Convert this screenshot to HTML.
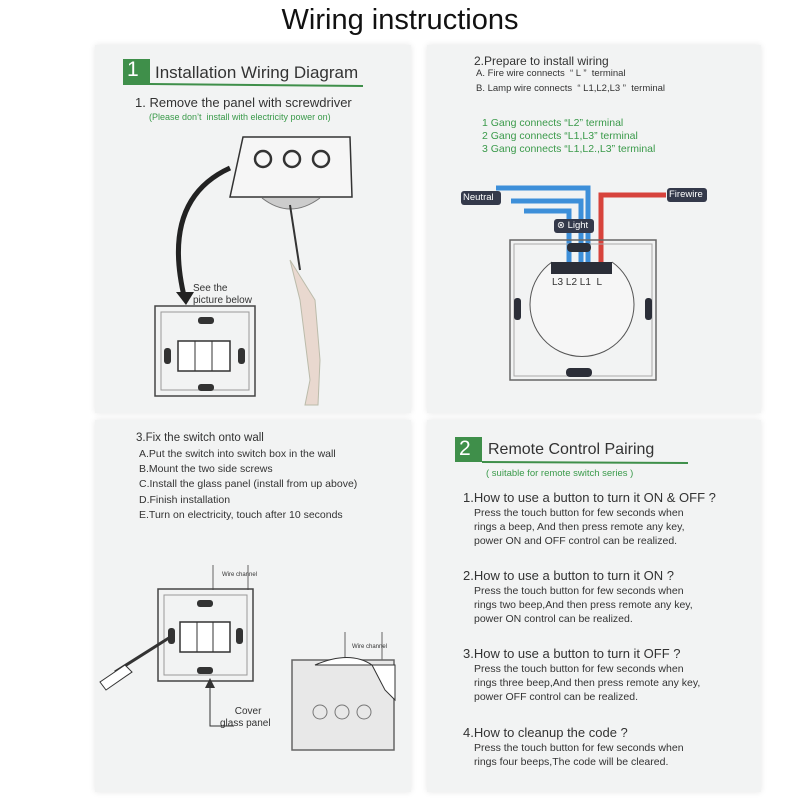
<!DOCTYPE html>
<html><head><meta charset="utf-8"><style>
body{margin:0;width:800px;height:800px;background:#fff;position:relative;overflow:hidden;font-family:"Liberation Sans",sans-serif;color:#333}
.p{position:absolute;background:#f2f3f3;box-shadow:0 0 6px #e6e6e6}
.t{position:absolute;white-space:nowrap}
.g{color:#3a9a4a}
svg{position:absolute;left:0;top:0}
</style></head><body>
<div class="t" style="left:0;width:800px;top:4px;text-align:center;font-size:29px;color:#111">Wiring instructions</div>
<div class="p" style="left:95px;top:45px;width:316px;height:368px"></div>
<div class="p" style="left:427px;top:45px;width:334px;height:368px"></div>
<div class="p" style="left:95px;top:420px;width:316px;height:372px"></div>
<div class="p" style="left:427px;top:420px;width:334px;height:372px"></div>

<svg width="800" height="800" viewBox="0 0 800 800">
<rect x="123" y="59" width="27" height="26" fill="#3f8f4a"/>
<line x1="150" y1="84" x2="363" y2="86" stroke="#3f8f4a" stroke-width="2"/>
<rect x="455" y="437" width="27" height="25" fill="#3f8f4a"/>
<line x1="482" y1="462" x2="688" y2="463" stroke="#3f8f4a" stroke-width="2"/>
<polygon points="243,137 350,137 352,197 230,197" fill="#f6f6f6" stroke="#333" stroke-width="1.5"/>
<circle cx="263" cy="159" r="8" fill="none" stroke="#333" stroke-width="2.5"/>
<circle cx="292" cy="159" r="8" fill="none" stroke="#333" stroke-width="2.5"/>
<circle cx="321" cy="159" r="8" fill="none" stroke="#333" stroke-width="2.5"/>
<path d="M262,198 Q290,220 320,198" fill="#ccc" stroke="#777"/>
<line x1="290" y1="205" x2="300" y2="270" stroke="#333" stroke-width="2"/>
<path d="M290,260 L300,300 L310,380 L305,405 L318,405 L320,360 L315,300 Z" fill="#e9d8cf" stroke="#bba"/>
<path d="M230,168 Q160,200 185,300" fill="none" stroke="#222" stroke-width="5"/>
<polygon points="176,292 194,292 186,305" fill="#222"/>
<rect x="155" y="306" width="100" height="90" fill="none" stroke="#444" stroke-width="1.5"/>
<rect x="161" y="312" width="88" height="78" fill="none" stroke="#999"/>
<rect x="178" y="341" width="52" height="30" fill="#fff" stroke="#333" stroke-width="1.5"/>
<line x1="195" y1="341" x2="195" y2="371" stroke="#333"/><line x1="212" y1="341" x2="212" y2="371" stroke="#333"/>
<rect x="198" y="317" width="16" height="7" rx="3" fill="#333"/><rect x="198" y="384" width="16" height="7" rx="3" fill="#333"/>
<rect x="164" y="348" width="7" height="16" rx="3" fill="#333"/><rect x="238" y="348" width="7" height="16" rx="3" fill="#333"/>
<g fill="none" stroke-width="5">
<path d="M524,211 H569 V270" stroke="#3d8fd9"/>
<path d="M511,201 H581 V270" stroke="#3d8fd9"/>
<path d="M496,188 H588 V270" stroke="#3d8fd9"/>
<path d="M666,195 H601 V270" stroke="#d7433c"/>
</g>
<rect x="461" y="191" width="40" height="14" rx="3" fill="#34394a"/>
<rect x="667" y="188" width="40" height="14" rx="3" fill="#34394a"/>
<rect x="554" y="219" width="40" height="14" rx="3" fill="#34394a"/>
<rect x="510" y="240" width="146" height="140" fill="none" stroke="#666" stroke-width="1.5"/>
<rect x="514" y="244" width="138" height="132" fill="none" stroke="#aaa"/>
<path d="M552,262 A52,52 0 1 0 612,262" fill="#f6f6f6" stroke="#555"/>
<rect x="551" y="262" width="61" height="12" fill="#2b2e38"/>
<rect x="567" y="243" width="24" height="9" rx="4" fill="#2b2e38"/>
<rect x="566" y="368" width="26" height="9" rx="4" fill="#2b2e38"/>
<rect x="514" y="298" width="7" height="22" rx="3" fill="#2b2e38"/>
<rect x="645" y="298" width="7" height="22" rx="3" fill="#2b2e38"/>
<line x1="213" y1="565" x2="213" y2="590" stroke="#666"/><line x1="248" y1="565" x2="248" y2="590" stroke="#666"/>
<rect x="158" y="589" width="95" height="92" fill="none" stroke="#444" stroke-width="1.5"/>
<rect x="164" y="595" width="83" height="80" fill="none" stroke="#999"/>
<rect x="180" y="622" width="50" height="30" fill="#fff" stroke="#333" stroke-width="1.5"/>
<line x1="197" y1="622" x2="197" y2="652" stroke="#333"/><line x1="213" y1="622" x2="213" y2="652" stroke="#333"/>
<rect x="197" y="600" width="16" height="7" rx="3" fill="#333"/><rect x="197" y="667" width="16" height="7" rx="3" fill="#333"/>
<rect x="168" y="628" width="7" height="16" rx="3" fill="#333"/><rect x="236" y="628" width="7" height="16" rx="3" fill="#333"/>
<line x1="172" y1="636" x2="115" y2="672" stroke="#333" stroke-width="3"/>
<path d="M125,665 L100,682 L106,690 L132,672 Z" fill="#fff" stroke="#333"/>
<path d="M210,680 V726 H234" fill="none" stroke="#333"/>
<polygon points="205,688 215,688 210,678" fill="#333"/>
<line x1="345" y1="632" x2="345" y2="660" stroke="#666"/><line x1="382" y1="632" x2="382" y2="660" stroke="#666"/>
<rect x="292" y="660" width="102" height="90" fill="#e8e8e8" stroke="#666" stroke-width="1.5"/>
<circle cx="320" cy="712" r="7" fill="none" stroke="#777"/><circle cx="342" cy="712" r="7" fill="none" stroke="#777"/><circle cx="364" cy="712" r="7" fill="none" stroke="#777"/>
<path d="M315,665 Q350,650 372,665 L385,690 L395,700 L395,665 Z" fill="#fff" stroke="#333"/>
</svg>

<div class="t" style="left:127px;top:58px;font-size:21px;color:#fff">1</div>
<div class="t" style="left:155px;top:63px;font-size:17px">Installation Wiring Diagram</div>
<div class="t" style="left:135px;top:95px;font-size:13px">1. Remove the panel with screwdriver</div>
<div class="t g" style="left:149px;top:112px;font-size:9px">(Please don’t &nbsp;install with electricity power on)</div>
<div class="t" style="left:193px;top:283px;font-size:10px;line-height:12px">See the<br>picture below</div>

<div class="t" style="left:474px;top:54px;font-size:12px">2.Prepare to install wiring</div>
<div class="t" style="left:476px;top:68px;font-size:9.5px">A. Fire wire connects &nbsp;“ L ” &nbsp;terminal</div>
<div class="t" style="left:476px;top:83px;font-size:9.5px">B. Lamp wire connects &nbsp;“ L1,L2,L3 ” &nbsp;terminal</div>
<div class="t g" style="left:482px;top:117px;font-size:10.5px;line-height:13px">1 Gang connects “L2” terminal<br>2 Gang connects “L1,L3” terminal<br>3 Gang connects “L1,L2.,L3” terminal</div>
<div class="t" style="left:463px;top:192px;font-size:9.5px;color:#fff">Neutral</div>
<div class="t" style="left:669px;top:189px;font-size:9.5px;color:#fff">Firewire</div>
<div class="t" style="left:557px;top:220px;font-size:9.5px;color:#fff">⊗ Light</div>
<div class="t" style="left:552px;top:277px;font-size:10px">L3 L2 L1 &nbsp;L</div>

<div class="t" style="left:136px;top:432px;font-size:11.5px">3.Fix the switch onto wall</div>
<div class="t" style="left:139px;top:447px;font-size:10.5px;line-height:15.2px">A.Put the switch into switch box in the wall<br>B.Mount the two side screws<br>C.Install the glass panel (install from up above)<br>D.Finish installation<br>E.Turn on electricity, touch after 10 seconds</div>
<div class="t" style="left:222px;top:572px;font-size:6px">Wire channel</div>
<div class="t" style="left:352px;top:644px;font-size:6px">Wire channel</div>
<div class="t" style="left:220px;top:706px;font-size:10px;line-height:12px;text-align:center">&nbsp;&nbsp;Cover<br>glass panel</div>

<div class="t" style="left:459px;top:437px;font-size:21px;color:#fff">2</div>
<div class="t" style="left:488px;top:441px;font-size:16px">Remote Control Pairing</div>
<div class="t g" style="left:486px;top:468px;font-size:9.5px">( suitable for remote switch series )</div>
<div class="t" style="left:463px;top:490px;font-size:13px">1.How to use a button to turn it ON &amp; OFF ?</div>
<div class="t" style="left:474px;top:506px;font-size:10.5px;line-height:14px">Press the touch button for few seconds when<br>rings a beep, And then press remote any key,<br>power ON and OFF control can be realized.</div>
<div class="t" style="left:463px;top:568px;font-size:13px">2.How to use a button to turn it ON ?</div>
<div class="t" style="left:474px;top:584px;font-size:10.5px;line-height:14px">Press the touch button for few seconds when<br>rings two beep,And then press remote any key,<br>power ON control can be realized.</div>
<div class="t" style="left:463px;top:646px;font-size:13px">3.How to use a button to turn it OFF ?</div>
<div class="t" style="left:474px;top:662px;font-size:10.5px;line-height:14px">Press the touch button for few seconds when<br>rings three beep,And then press remote any key,<br>power OFF control can be realized.</div>
<div class="t" style="left:463px;top:725px;font-size:13px">4.How to cleanup the code ?</div>
<div class="t" style="left:474px;top:741px;font-size:10.5px;line-height:14px">Press the touch button for few seconds when<br>rings four beeps,The code will be cleared.</div>
</body></html>
